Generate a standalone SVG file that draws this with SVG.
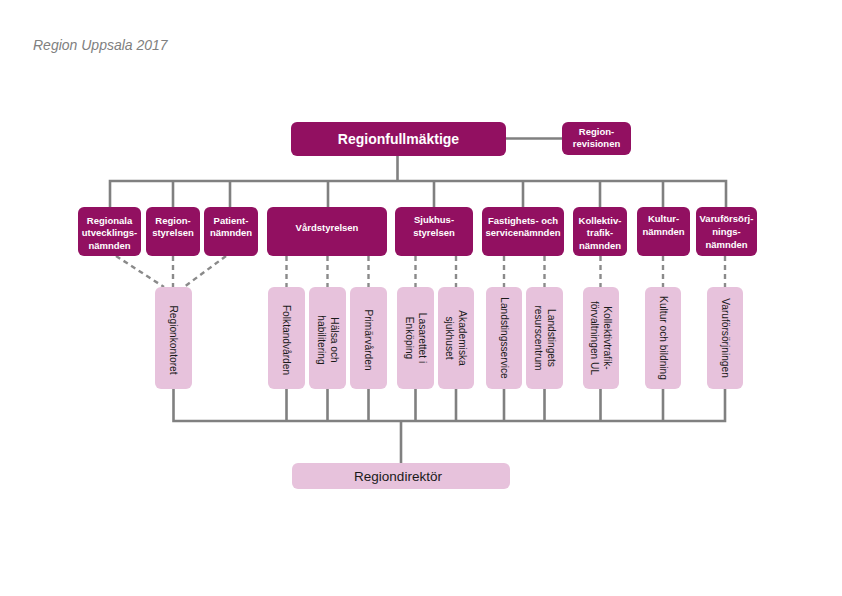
<svg xmlns="http://www.w3.org/2000/svg" width="842" height="596" viewBox="0 0 842 596">
<style>
.bg{fill:#ffffff}
.dark{fill:#921061}
.light{fill:#e7c2dc}
.dt{font-family:"Liberation Sans",Arial,sans-serif;font-weight:bold;font-size:9.5px;fill:#ffffff;text-anchor:middle}
.big{font-size:14px}
.lt{font-family:"Liberation Sans",Arial,sans-serif;font-size:10.2px;fill:#1a1a1a;text-anchor:middle}
.dir{font-size:13.5px}
.ln{stroke:#808080;stroke-width:2.6;fill:none}
.ds{stroke:#8a8a8a;stroke-width:2.4;fill:none;stroke-dasharray:5 4}
.title{font-family:"Liberation Sans",Arial,sans-serif;font-style:italic;font-size:14px;fill:#808080}
</style>
<rect class="bg" x="0" y="0" width="842" height="596"/>
<text class="title" x="33" y="50">Region Uppsala 2017</text>

<g id="connectors">
  <path class="ln" d="M506 138.5H562"/>
  <path class="ln" d="M397.5 156V181"/>
  <path class="ln" d="M110 207V181H726V207"/>
  <path class="ln" d="M173 181V207M230 181V207M328 181V207M434 181V207M523 181V207M600 181V207M663 181V207"/>
  <path class="ds" d="M116 256L164 287M173 256V287M226 256L184 287"/>
  <path class="ds" d="M286.5 256V287M327.5 256V287M368.5 256V287"/>
  <path class="ds" d="M415.5 256V287M456 256V287M504 256V287M544.5 256V287M600.5 256V287M663 256V287M725 256V287"/>
  <path class="ln" d="M173.5 389V421H725V389"/>
  <path class="ln" d="M286.5 389V421M327.5 389V421M368.5 389V421M415.5 389V421M456 389V421M504 389V421M544.5 389V421M600.5 389V421M663 389V421"/>
  <path class="ln" d="M401 421V463"/>
</g>

<g id="regionfullmaktige">
  <rect class="dark" x="291" y="122" width="215" height="34" rx="6"/>
  <text class="dt big" x="398.5" y="143.5">Regionfullmäktige</text>
</g>
<g id="regionrevisionen">
  <rect class="dark" x="562" y="122" width="69" height="33" rx="6"/>
  <text class="dt" x="596.5" y="134.5">Region-</text>
  <text class="dt" x="596.5" y="146.5">revisionen</text>
</g>

<g id="regionala">
  <rect class="dark" x="78" y="207" width="63" height="49" rx="6"/>
  <text class="dt" x="109.5" y="223.5">Regionala</text>
  <text class="dt" x="109.5" y="236">utvecklings-</text>
  <text class="dt" x="109.5" y="248.5">nämnden</text>
</g>
<g id="regionstyrelsen">
  <rect class="dark" x="146" y="207" width="54" height="49" rx="6"/>
  <text class="dt" x="173" y="223.5">Region-</text>
  <text class="dt" x="173" y="236">styrelsen</text>
</g>
<g id="patientnamnden">
  <rect class="dark" x="204" y="207" width="54" height="49" rx="6"/>
  <text class="dt" x="231" y="223.5">Patient-</text>
  <text class="dt" x="231" y="236">nämnden</text>
</g>
<g id="vardstyrelsen">
  <rect class="dark" x="267" y="207" width="120" height="49" rx="6"/>
  <text class="dt" x="327" y="230.5">Vårdstyrelsen</text>
</g>
<g id="sjukhusstyrelsen">
  <rect class="dark" x="395" y="207" width="78" height="49" rx="6"/>
  <text class="dt" x="434" y="223">Sjukhus-</text>
  <text class="dt" x="434" y="235.5">styrelsen</text>
</g>
<g id="fastighets">
  <rect class="dark" x="482" y="207" width="82" height="49" rx="6"/>
  <text class="dt" x="523" y="223.5">Fastighets- och</text>
  <text class="dt" x="523" y="236">servicenämnden</text>
</g>
<g id="kollektivtrafik">
  <rect class="dark" x="573" y="207" width="54" height="49" rx="6"/>
  <text class="dt" x="600" y="223.5">Kollektiv-</text>
  <text class="dt" x="600" y="236">trafik-</text>
  <text class="dt" x="600" y="248.5">nämnden</text>
</g>
<g id="kulturnamnden">
  <rect class="dark" x="637" y="207" width="53" height="49" rx="6"/>
  <text class="dt" x="663.5" y="222">Kultur-</text>
  <text class="dt" x="663.5" y="234.5">nämnden</text>
</g>
<g id="varuforsorjning">
  <rect class="dark" x="696" y="207" width="61" height="49" rx="6"/>
  <text class="dt" x="726.5" y="222">Varuförsörj-</text>
  <text class="dt" x="726.5" y="235">nings-</text>
  <text class="dt" x="726.5" y="248">nämnden</text>
</g>

<g id="regionkontoret">
  <rect class="light" x="155" y="287" width="37" height="102" rx="6"/>
  <text class="lt" transform="translate(173.5 340) rotate(90)" y="3.5">Regionkontoret</text>
</g>
<g id="folktandvarden">
  <rect class="light" x="268" y="287" width="37" height="102" rx="6"/>
  <text class="lt" transform="translate(286.5 340) rotate(90)" y="3.5">Folktandvården</text>
</g>
<g id="halsa">
  <rect class="light" x="309" y="287" width="37" height="102" rx="6"/>
  <text class="lt" transform="translate(327.5 340) rotate(90)" y="-3">Hälsa och</text>
  <text class="lt" transform="translate(327.5 340) rotate(90)" y="10">habilitering</text>
</g>
<g id="primarvarden">
  <rect class="light" x="350" y="287" width="37" height="102" rx="6"/>
  <text class="lt" transform="translate(368.5 340) rotate(90)" y="3.5">Primärvården</text>
</g>
<g id="lasarettet">
  <rect class="light" x="397" y="287" width="37" height="102" rx="6"/>
  <text class="lt" transform="translate(415.5 338) rotate(90)" y="-3">Lasarettet i</text>
  <text class="lt" transform="translate(415.5 338) rotate(90)" y="10">Enköping</text>
</g>
<g id="akademiska">
  <rect class="light" x="438" y="287" width="36" height="102" rx="6"/>
  <text class="lt" transform="translate(456 338) rotate(90)" y="-3">Akademiska</text>
  <text class="lt" transform="translate(456 338) rotate(90)" y="10">sjukhuset</text>
</g>
<g id="landstingsservice">
  <rect class="light" x="486" y="287" width="36" height="102" rx="6"/>
  <text class="lt" transform="translate(504 338) rotate(90)" y="3.5">Landstingsservice</text>
</g>
<g id="resurscentrum">
  <rect class="light" x="526" y="287" width="37" height="102" rx="6"/>
  <text class="lt" transform="translate(544.5 338) rotate(90)" y="-3">Landstingets</text>
  <text class="lt" transform="translate(544.5 338) rotate(90)" y="10">resurscentrum</text>
</g>
<g id="kollektivforvaltningen">
  <rect class="light" x="583" y="287" width="36" height="102" rx="6"/>
  <text class="lt" transform="translate(601 338) rotate(90)" y="-3">Kollektivtrafik-</text>
  <text class="lt" transform="translate(601 338) rotate(90)" y="10">förvaltningen UL</text>
</g>
<g id="kulturochbildning">
  <rect class="light" x="645" y="287" width="36" height="102" rx="6"/>
  <text class="lt" transform="translate(663 338) rotate(90)" y="3.5">Kultur och bildning</text>
</g>
<g id="varuforsorjningen">
  <rect class="light" x="707" y="287" width="36" height="102" rx="6"/>
  <text class="lt" transform="translate(725 338) rotate(90)" y="3.5">Varuförsörjningen</text>
</g>

<g id="regiondirektor">
  <rect class="light" x="292" y="463" width="218" height="26" rx="6"/>
  <text class="lt dir" x="398" y="481">Regiondirektör</text>
</g>
</svg>
